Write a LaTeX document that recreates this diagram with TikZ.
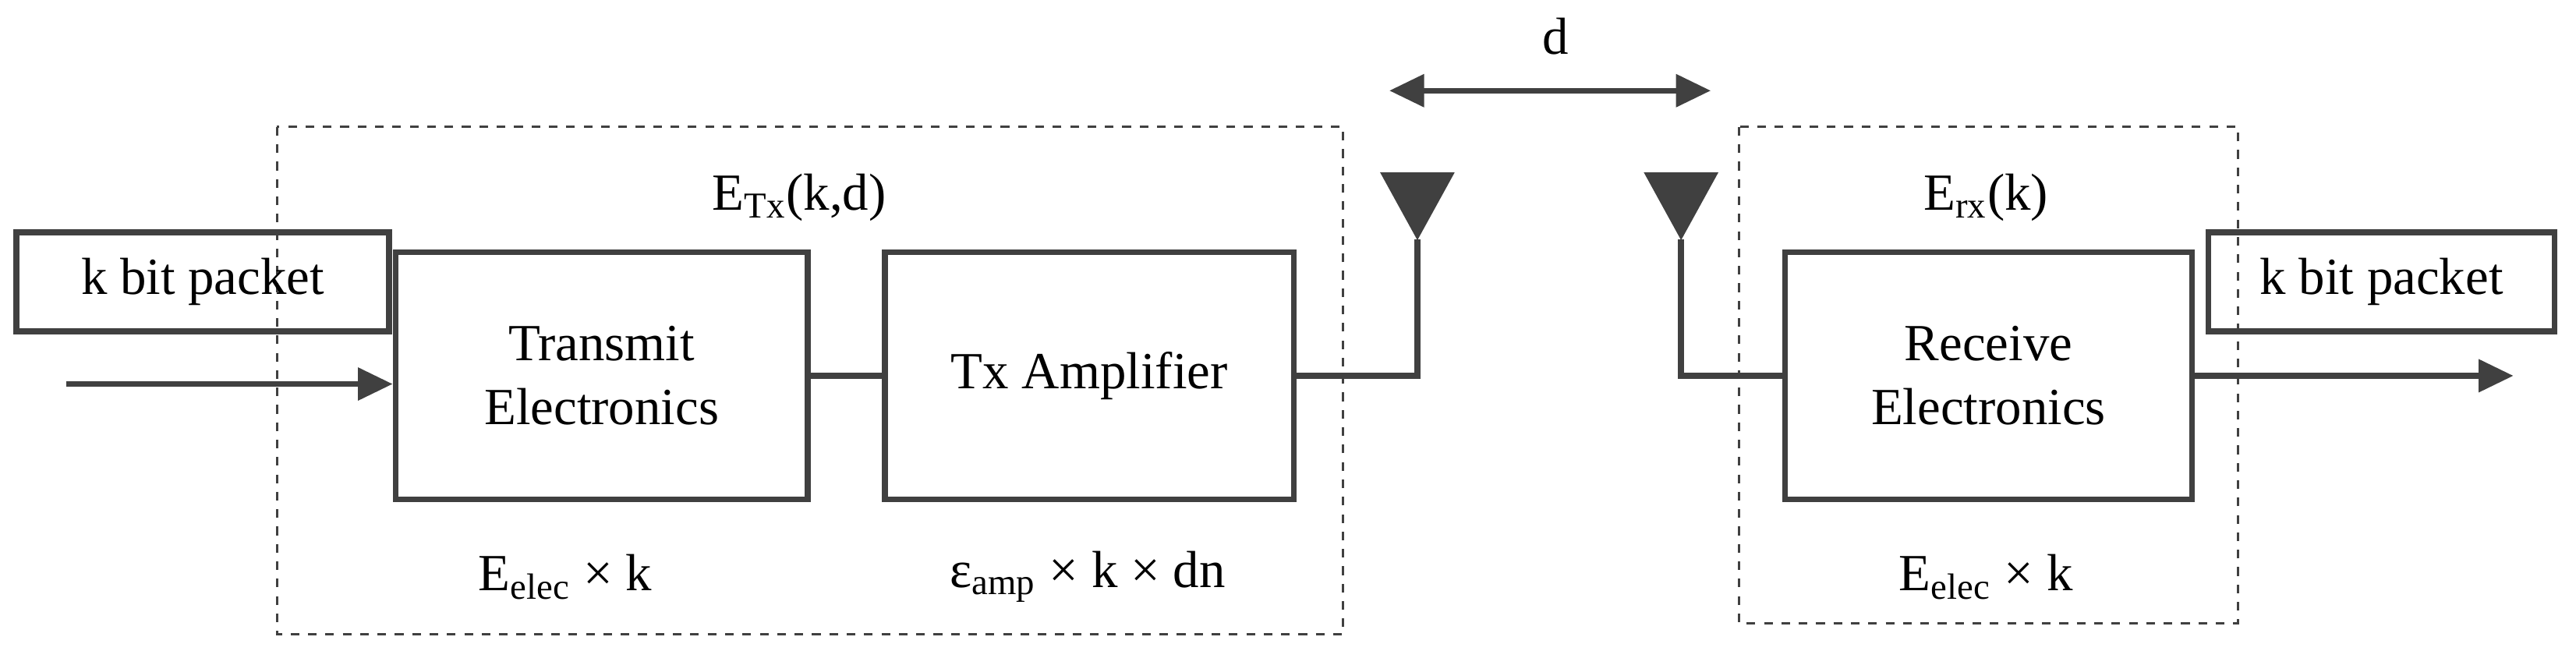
\documentclass[tikz,border=0pt]{standalone}
\usepackage{fontspec}
\setmainfont{Liberation Serif}
\usetikzlibrary{arrows.meta}
\definecolor{ink}{HTML}{404040}
\begin{document}
\begin{tikzpicture}[
  font=\fontsize{18}{22}\selectfont,
  every node/.style={text=black},
  blk/.style={draw=ink, line width=2pt, align=center, inner sep=0pt},
  wire/.style={draw=ink, line width=2pt},
  arr/.style={wire, -{Triangle[length=12pt,width=11pt]}},
  grp/.style={draw=ink, dashed, line width=0.8pt},
  ant/.style={fill=ink, draw=ink}
]
\useasboundingbox (0,0) rectangle (31.26,-7.9);
% dashed groups
\draw[grp] (3.36,-1.54) rectangle (16.3,-7.7);
\draw[grp] (21.1,-1.54) rectangle (27.16,-7.56);
% blocks
\node[blk, minimum width=4.52cm, minimum height=1.2cm] (pin) at (2.46,-3.42) {k bit packet};
\node[blk, minimum width=5cm, minimum height=3cm] (te) at (7.3,-4.56) {Transmit\\Electronics};
\node[blk, minimum width=4.96cm, minimum height=3cm] (ta) at (13.22,-4.56) {Tx Amplifier};
\node[blk, minimum width=4.94cm, minimum height=3cm] (re) at (24.13,-4.56) {Receive\\Electronics};
\node[blk, minimum width=4.2cm, minimum height=1.2cm] (pout) at (28.9,-3.42) {k bit packet};
% labels
\node (etx) at (9.7,-2.4) {E\textsubscript{Tx}(k,d)};
\node (erx) at (24.1,-2.4) {E\textsubscript{rx}(k)};
\node (el1) at (6.86,-7.0) {E\textsubscript{elec} × k};
\node (eamp) at (13.2,-7.0) {ε\textsubscript{amp} × k × dn};
\node (el2) at (24.1,-7.0) {E\textsubscript{elec} × k};
\node (d) at (18.88,-0.44) {d};
% antennas
\coordinate (a1) at (17.2,-2.9);
\coordinate (a2) at (20.4,-2.9);
\filldraw[ant] (16.76,-2.1) -- (17.64,-2.1) -- (a1) -- cycle;
\filldraw[ant] (19.96,-2.1) -- (20.84,-2.1) -- (a2) -- cycle;
\coordinate (in) at (0.8,-4.66);
\coordinate (out) at (30.5,-4.56);
\coordinate (dl) at (16.86,-1.1);
\coordinate (dr) at (20.76,-1.1);
% connectors
\draw[arr] (in) -- (te.west |- in);
\draw[wire] (te.east) -- (ta.west);
\draw[wire] (ta.east) -| (a1);
\draw[wire] (re.west) -| (a2);
\draw[arr] (re.east) -- (out);
\draw[wire, {Triangle[length=12pt,width=11pt]}-{Triangle[length=12pt,width=11pt]}] (dl) -- (dr);
\end{tikzpicture}
\end{document}
